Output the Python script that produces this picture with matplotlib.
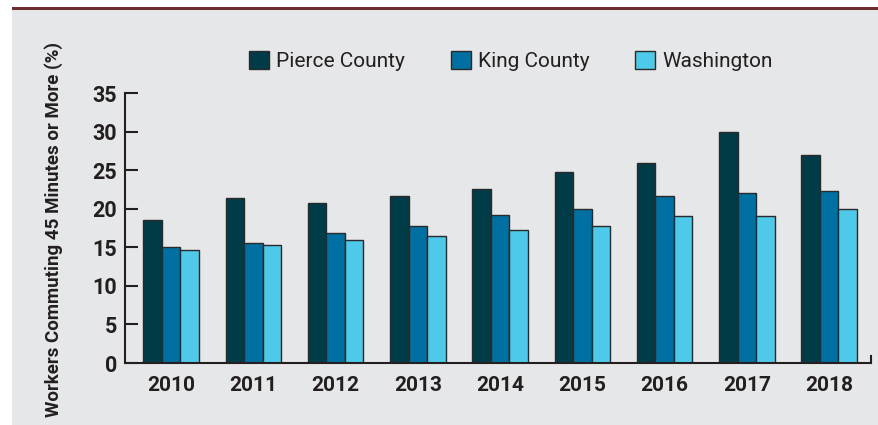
import matplotlib
matplotlib.use("Agg")
import matplotlib.pyplot as plt
import numpy as np
from matplotlib.patches import Rectangle

years = [2010, 2011, 2012, 2013, 2014, 2015, 2016, 2017, 2018]
pierce = [18.6, 21.4, 20.8, 21.7, 22.5, 24.7, 25.9, 30.0, 27.0]
king = [15.0, 15.6, 16.9, 17.8, 19.2, 20.0, 21.7, 22.0, 22.3]
washington = [14.7, 15.3, 15.9, 16.4, 17.2, 17.8, 19.1, 19.1, 20.0]
series_names = ['Pierce County', 'King County', 'Washington']
colors = ['#003c48', '#006fa1', '#4ec9e9']

plt.rcParams['font.family'] = ['Roboto', 'DejaVu Sans']

fig = plt.figure(figsize=(8.79, 4.25), dpi=100)
fig.patch.set_facecolor('white')

# grey panel and the dark red rule on top
fig.add_artist(Rectangle((12 / 879, 0), 1, 1 - 10 / 425, transform=fig.transFigure,
                         facecolor='#e6e7e9', edgecolor='none', zorder=0))
fig.add_artist(Rectangle((12 / 879, 1 - 10 / 425), 1, 3 / 425, transform=fig.transFigure,
                         facecolor='#6e2c2c', edgecolor='none', zorder=0))

ax = fig.add_axes([125 / 879, 62 / 425, 746 / 879, 270 / 425])
ax.set_facecolor('none')

x = np.array(years)
w = 0.225
for i, (vals, name, c) in enumerate(zip([pierce, king, washington], series_names, colors)):
    ax.bar(x + (i - 1) * w, vals, width=w, color=c, edgecolor='#2a2a2a',
           linewidth=1.0, label=name, zorder=2)

ax.set_xlim(2010 - 0.56, 2018 + 0.51)
ax.set_ylim(0, 35)
ax.set_yticks(range(0, 36, 5))
ax.set_xticks(years)
ax.set_xticklabels([str(y) for y in years])

ax.spines['top'].set_visible(False)
for s in ['left', 'bottom', 'right']:
    ax.spines[s].set_linewidth(1.5)
    ax.spines[s].set_color('#231f20')
ax.spines['right'].set_bounds(0, 0.9)

ax.tick_params(axis='y', direction='in', length=9.5, width=1.5, color='#231f20',
               pad=5.5, labelsize=15.5, labelcolor='#231f20')
ax.tick_params(axis='x', length=0, pad=9.5, labelsize=15, labelcolor='#231f20')
for lab in ax.get_xticklabels() + ax.get_yticklabels():
    lab.set_fontweight('bold')

fig.text(54 / 879, 1 - 42 / 425, 'Workers Commuting 45 Minutes or More (%)',
         rotation=90, ha='center', va='top', fontsize=13.5, fontweight='bold',
         color='#231f20')

leg = ax.legend(loc='center', bbox_to_anchor=(511 / 879, 1 - 61 / 425),
                bbox_transform=fig.transFigure, ncol=3, frameon=False,
                fontsize=15, handlelength=0.95, handleheight=0.95,
                handletextpad=0.35, columnspacing=2.2)
for t in leg.get_texts():
    t.set_color('#231f20')

fig.savefig('out.png', dpi=100)
